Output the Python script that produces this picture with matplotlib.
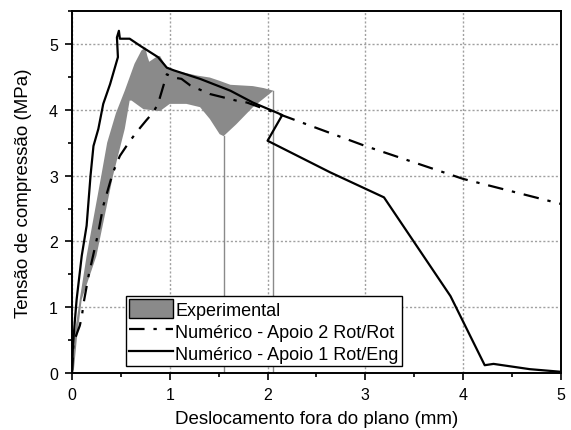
import matplotlib
matplotlib.use('Agg')
import matplotlib.pyplot as plt
from matplotlib.patches import Patch
from matplotlib.ticker import MultipleLocator

plt.rcParams['font.family'] = ['Liberation Sans', 'DejaVu Sans']

# envelope of the experimental curves (outline of the shaded band)
exp_x = [0.00, 0.02, 0.08, 0.15, 0.30, 0.36, 0.45, 0.54, 0.64, 0.71, 0.75,
         0.77, 0.79, 0.86, 0.90, 0.93, 0.97, 1.07, 1.28, 1.41, 1.51, 1.62,
         1.85, 1.96, 2.06, 1.85, 1.68, 1.55, 1.51, 1.41, 1.31, 1.17, 1.00,
         0.90, 0.73, 0.61, 0.59, 0.54, 0.42, 0.25, 0.10, 0.05, 0.02]
exp_y = [0.00, 0.52, 1.12, 1.78, 3.00, 3.50, 3.95, 4.29, 4.70, 4.90, 4.95,
         4.82, 4.73, 4.80, 4.82, 4.74, 4.65, 4.59, 4.52, 4.49, 4.44, 4.38,
         4.36, 4.33, 4.29, 4.04, 3.78, 3.60, 3.63, 3.86, 4.04, 4.09, 4.09,
         3.98, 4.01, 4.14, 4.14, 3.71, 3.00, 1.78, 1.12, 0.52, 0.05]

# unloading branches of the tests
drop_x = [1.55, 2.06]
drop_y = [3.60, 4.29]

# numerical model - support 2 Rot/Rot
rr_x = [0.00, 0.014, 0.03, 0.08, 0.10, 0.12, 0.17, 0.27, 0.32, 0.39, 0.42,
        0.49, 0.58, 0.66, 0.76, 0.83, 0.88, 0.92, 0.97, 1.04, 1.12, 1.21,
        1.41, 1.68, 1.79, 2.18, 3.00, 4.00, 5.00]
rr_y = [0.00, 0.41, 0.52, 0.72, 0.85, 1.07, 1.48, 2.14, 2.54, 2.90, 3.05,
        3.30, 3.50, 3.66, 3.84, 3.96, 4.09, 4.29, 4.54, 4.49, 4.47, 4.37,
        4.24, 4.14, 4.11, 3.90, 3.45, 2.95, 2.57]

# numerical model - support 1 Rot/Eng
re_x = [0.00, 0.01, 0.03, 0.048, 0.10, 0.15, 0.19, 0.22, 0.27, 0.32, 0.39,
        0.47, 0.46, 0.48, 0.49, 0.59, 0.70, 0.88, 0.97, 1.04, 1.31, 1.62,
        1.85, 2.09, 2.15, 2.00, 2.64, 3.19, 3.87, 4.22, 4.31, 4.68, 5.00]
re_y = [0.00, 0.41, 0.80, 1.12, 1.78, 2.24, 3.00, 3.45, 3.71, 4.09, 4.39,
        4.80, 5.10, 5.20, 5.08, 5.08, 4.97, 4.80, 4.64, 4.60, 4.47, 4.29,
        4.11, 3.96, 3.92, 3.53, 3.05, 2.67, 1.17, 0.12, 0.14, 0.06, 0.02]

gray = '#8a8a8a'
dashdot = (0, (7, 4, 1.5, 4))

fig = plt.figure(figsize=(5.71, 4.31), dpi=100)
ax = fig.add_axes([0.126, 0.132, 0.8565, 0.84])

ax.fill(exp_x, exp_y, color=gray, lw=0, zorder=2)
for x, y in zip(drop_x, drop_y):
    ax.plot([x, x], [0, y], color=gray, lw=1.0, zorder=2)

ax.plot(rr_x, rr_y, color='black', lw=1.6, linestyle=dashdot, zorder=3)
ax.plot(re_x, re_y, color='black', lw=1.6, zorder=3)

ax.set_xlim(0, 5)
ax.set_ylim(0, 5.5)
ax.xaxis.set_major_locator(MultipleLocator(1))
ax.xaxis.set_minor_locator(MultipleLocator(0.5))
ax.yaxis.set_major_locator(MultipleLocator(1))
ax.yaxis.set_minor_locator(MultipleLocator(0.5))
ax.tick_params(which='major', direction='out', length=5, width=1.2,
               labelsize=11.5, pad=5)
ax.tick_params(which='minor', direction='out', length=3, width=1.2)
ax.grid(True, which='major', color='#a0a0a0', linestyle=(0, (1.5, 1.5)), lw=1.0, zorder=0)
ax.set_axisbelow(True)
for s in ax.spines.values():
    s.set_linewidth(1.4)

ax.set_xlabel('Deslocamento fora do plano (mm)', fontsize=13.5, labelpad=6)
ax.set_ylabel('Tensão de compressão (MPa)', fontsize=13.5, labelpad=12)

handles = [Patch(facecolor=gray, edgecolor='black', lw=1.0),
           plt.Line2D([], [], color='black', lw=1.6, linestyle=dashdot),
           plt.Line2D([], [], color='black', lw=1.6)]
labels = ['Experimental', 'Numérico - Apoio 2 Rot/Rot', 'Numérico - Apoio 1 Rot/Eng']
leg = ax.legend(handles, labels, loc='lower left', bbox_to_anchor=(0.11, 0.019),
                fontsize=13, frameon=True, fancybox=False, framealpha=1,
                edgecolor='black', handlelength=2.4, handleheight=1.2,
                handletextpad=0.15, labelspacing=0.15, borderpad=0.2,
                borderaxespad=0)
leg.get_frame().set_linewidth(1.0)

fig.savefig('out.png', dpi=100)
